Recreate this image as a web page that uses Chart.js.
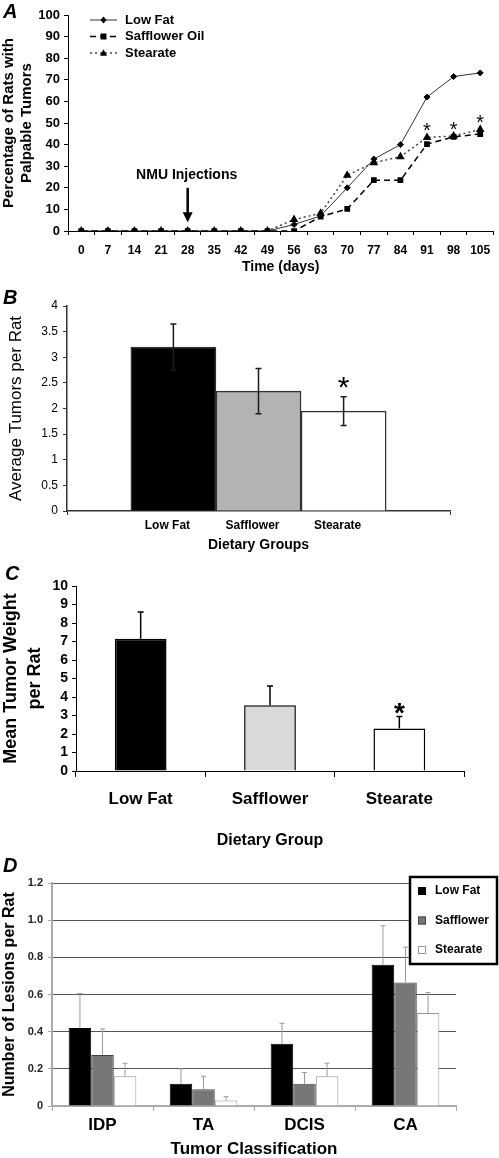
<!DOCTYPE html>
<html>
<head>
<meta charset="utf-8">
<script src="https://cdn.jsdelivr.net/npm/chart.js@4.4.0/dist/chart.umd.min.js"></script>
<style>
  html, body { margin: 0; padding: 0; background: #fff; }
  body { width: 499px; height: 1158px; position: relative; overflow: hidden; }
  canvas { position: absolute; left: 0; }
  .panel { position: absolute; font: italic bold 20px "Liberation Sans", Arial, sans-serif; line-height: 20px; color: #000; }
</style>
</head>
<body>
<canvas id="chartA" width="499" height="280" style="top:0px"></canvas>
<canvas id="chartB" width="499" height="276" style="top:280px"></canvas>
<canvas id="chartC" width="499" height="296" style="top:556px"></canvas>
<canvas id="chartD" width="499" height="306" style="top:852px"></canvas>
<div class="panel" style="left:3px;top:1px">A</div>
<div class="panel" style="left:3px;top:287px">B</div>
<div class="panel" style="left:5px;top:563px">C</div>
<div class="panel" style="left:3px;top:855px">D</div>
<script>
// ---- panel A: palpable tumors over time
const days = ['0', '7', '14', '21', '28', '35', '42', '49', '56', '63', '70', '77', '84', '91', '98', '105'];
const lowFatPct = [0, 0, 0, 0, 0, 0, 0, 0, 3, 7, 20, 33.3, 40, 62, 71.5, 73.2];
const safflowerPct = [0, 0, 0, 0, 0, 0, 0, 0, 0, 6.6, 10.2, 23.5, 23.5, 40.2, 43.6, 44.9];
const stearatePct = [0, 0, 0, 0, 0, 0, 0, 0, 5.3, 8.2, 25.8, 31.6, 34.4, 43.3, 44, 47];
const pctSignificant = [false, false, false, false, false, false, false, false, false, false, false, false, false, true, true, true];
const nmuDayIndex = 4;

// ---- panel B: average tumors per rat
const dietGroups = ['Low Fat', 'Safflower', 'Stearate'];
const avgTumors = [3.2, 2.34, 1.95];
const avgTumorsErr = [0.45, 0.44, 0.28];
const avgTumorsSig = [false, false, true];

// ---- panel C: mean tumor weight per rat
const tumorWeight = [7.15, 3.55, 2.3];
const tumorWeightErr = [1.45, 1.05, 0.65];
const tumorWeightSig = [false, false, true];

// ---- panel D: lesions per rat by tumor class
const tumorClasses = ['IDP', 'TA', 'DCIS', 'CA'];
const lesionsLowFat = [0.42, 0.12, 0.335, 0.76];
const lesionsSafflower = [0.275, 0.09, 0.12, 0.665];
const lesionsStearate = [0.16, 0.03, 0.16, 0.5];
const lesionsLowFatErr = [0.185, 0.08, 0.11, 0.21];
const lesionsSafflowerErr = [0.14, 0.07, 0.06, 0.19];
const lesionsStearateErr = [0.07, 0.02, 0.07, 0.11];

const FONT = '"Liberation Sans", Arial, sans-serif';
Chart.defaults.font.family = FONT;
Chart.defaults.color = '#000';
Chart.defaults.animation = false;
Chart.defaults.responsive = false;
Chart.defaults.plugins.legend.display = false;
Chart.defaults.plugins.tooltip.enabled = false;

function drawMarker(ctx, style, x, y, r) {
  ctx.beginPath();
  if (style === 'rect') {
    ctx.rect(x - r, y - r, 2 * r, 2 * r);
  } else if (style === 'rectRot') {
    ctx.moveTo(x, y - r * 1.2); ctx.lineTo(x + r, y); ctx.lineTo(x, y + r * 1.2); ctx.lineTo(x - r, y);
    ctx.closePath();
  } else {
    ctx.moveTo(x, y - r * 1.1); ctx.lineTo(x + r, y + r * 0.8); ctx.lineTo(x - r, y + r * 0.8);
    ctx.closePath();
  }
  ctx.fill();
}

// error bars, stars and the injection arrow
const extras = {
  id: 'extras',
  afterDatasetsDraw(chart, args, o) {
    const { ctx } = chart;
    const ys = chart.scales.y, xs = chart.scales.x;
    ctx.save();
    (o.errors || []).forEach((errs, di) => {
      const meta = chart.getDatasetMeta(di);
      const vals = chart.data.datasets[di].data;
      meta.data.forEach((el, j) => {
        const v = typeof vals[j] === 'object' ? vals[j].y : vals[j];
        const top = ys.getPixelForValue(v + errs[j]);
        const bot = o.lower ? ys.getPixelForValue(v - errs[j]) : el.y;
        ctx.strokeStyle = o.errColor;
        ctx.lineWidth = o.errWidth;
        ctx.beginPath();
        ctx.moveTo(el.x, top); ctx.lineTo(el.x, bot);
        ctx.moveTo(el.x - o.cap, top); ctx.lineTo(el.x + o.cap, top);
        if (o.lower) { ctx.moveTo(el.x - o.cap, bot); ctx.lineTo(el.x + o.cap, bot); }
        ctx.stroke();
      });
    });
    if (o.stars) {
      const s = o.stars;
      const meta = chart.getDatasetMeta(s.dataset);
      const vals = chart.data.datasets[s.dataset].data;
      ctx.font = s.font;
      ctx.fillStyle = '#000';
      ctx.textAlign = 'center';
      ctx.textBaseline = 'alphabetic';
      s.flags.forEach((f, j) => {
        if (!f) return;
        const el = meta.data[j];
        const v = typeof vals[j] === 'object' ? vals[j].y : vals[j];
        const base = s.errors ? ys.getPixelForValue(v + s.errors[j]) : el.y;
        ctx.fillText('*', el.x, base - s.offset + s.size * 0.58);
      });
    }
    if (o.arrow) {
      const a = o.arrow;
      const px = xs.getPixelForValue(a.index);
      ctx.fillStyle = '#000';
      ctx.strokeStyle = '#000';
      ctx.font = 'bold 14px ' + FONT;
      ctx.textAlign = 'center';
      ctx.textBaseline = 'middle';
      ctx.fillText(a.label, px - 1, ys.getPixelForValue(a.textAt));
      const y0 = ys.getPixelForValue(a.from), y1 = ys.getPixelForValue(a.to);
      ctx.lineWidth = 2.5;
      ctx.beginPath(); ctx.moveTo(px, y0); ctx.lineTo(px, y1 - 6); ctx.stroke();
      ctx.beginPath(); ctx.moveTo(px, y1); ctx.lineTo(px - 5, y1 - 10); ctx.lineTo(px + 5, y1 - 10); ctx.closePath(); ctx.fill();
    }
    ctx.restore();
  }
};

const lineLegend = {
  id: 'lineLegend',
  afterDraw(chart, args, o) {
    const { ctx } = chart;
    ctx.save();
    chart.data.datasets.forEach((ds, i) => {
      const y = o.y + i * o.step;
      ctx.strokeStyle = ds.borderColor;
      ctx.lineWidth = ds.borderWidth;
      ctx.setLineDash(ds.borderDash || []);
      ctx.beginPath(); ctx.moveTo(o.x, y); ctx.lineTo(o.x + o.len, y); ctx.stroke();
      ctx.setLineDash([]);
      ctx.fillStyle = '#000';
      drawMarker(ctx, ds.pointStyle, o.x + o.len / 2, y, ds.pointRadius);
      ctx.font = 'bold 13px ' + FONT;
      ctx.textBaseline = 'middle';
      ctx.fillText(ds.label, o.x + o.len + 8, y);
    });
    ctx.restore();
  }
};

const boxLegend = {
  id: 'boxLegend',
  afterDraw(chart, args, o) {
    const { ctx } = chart;
    ctx.save();
    ctx.fillStyle = '#fff';
    ctx.fillRect(o.x, o.y, o.w, o.h);
    ctx.lineWidth = 2.5;
    ctx.strokeStyle = '#000';
    ctx.strokeRect(o.x, o.y, o.w, o.h);
    ctx.font = 'bold 12px ' + FONT;
    ctx.textBaseline = 'middle';
    chart.data.datasets.forEach((ds, i) => {
      const cy = o.y + o.first + i * o.step;
      ctx.fillStyle = ds.backgroundColor;
      ctx.fillRect(o.x + 8, cy - 4, 8, 8);
      ctx.lineWidth = 1;
      ctx.strokeStyle = ds.borderColor;
      ctx.strokeRect(o.x + 8.5, cy - 3.5, 7, 7);
      ctx.fillStyle = '#000';
      ctx.fillText(ds.label, o.x + 25, cy);
    });
    ctx.restore();
  }
};

// ---------- A
new Chart(document.getElementById('chartA'), {
  type: 'line',
  data: {
    labels: days,
    datasets: [
      { label: 'Low Fat', data: lowFatPct, borderColor: '#333', borderWidth: 1, pointStyle: 'rectRot', pointRadius: 3,
        pointBackgroundColor: '#000', pointBorderColor: '#000', tension: 0 },
      { label: 'Safflower Oil', data: safflowerPct, borderColor: '#000', borderWidth: 1.5, borderDash: [6, 4], pointStyle: 'rect',
        pointRadius: 3, pointBackgroundColor: '#000', pointBorderColor: '#000', tension: 0 },
      { label: 'Stearate', data: stearatePct, borderColor: '#444', borderWidth: 1.5, borderDash: [2, 3], pointStyle: 'triangle',
        pointRadius: 3.5, pointBackgroundColor: '#000', pointBorderColor: '#000', tension: 0 }
    ]
  },
  options: {
    layout: { padding: { top: 15, right: 0, left: 0, bottom: 0 } },
    plugins: {
      lineLegend: { x: 90, y: 20, step: 16.5, len: 27 },
      extras: {
        stars: { dataset: 2, flags: pctSignificant, font: '20px ' + FONT, size: 20, offset: 12 },
        arrow: { index: nmuDayIndex, label: 'NMU Injections', textAt: 26, from: 20, to: 4 }
      }
    },
    scales: {
      x: {
        offset: true,
        grid: { offset: true, drawOnChartArea: false, tickLength: 4, color: '#000' },
        border: { color: '#000', width: 1 },
        ticks: { font: { size: 12, weight: 'bold' }, padding: 8, maxRotation: 0, autoSkip: false },
        title: { display: true, text: 'Time (days)', font: { size: 14, weight: 'bold' }, padding: { top: 0, bottom: 4 } },
        afterFit(s) { s.height = 49; }
      },
      y: {
        min: 0, max: 100,
        ticks: { stepSize: 10, font: { size: 13, weight: 'bold' }, padding: 4, autoSkip: false },
        grid: { drawOnChartArea: false, tickLength: 4, color: '#000' },
        border: { color: '#000', width: 1 },
        title: { display: true, text: ['Percentage of Rats with', 'Palpable Tumors'],
          font: { size: 15, weight: 'bold', lineHeight: '18px' }, padding: { top: 0, bottom: 0 } },
        afterFit(s) { s.width = 68; }
      }
    }
  },
  plugins: [extras, lineLegend]
});

// ---------- B
new Chart(document.getElementById('chartB'), {
  type: 'bar',
  data: {
    datasets: [{
      data: avgTumors.map((v, i) => ({ x: i, y: v })),
      backgroundColor: ['#000', '#b3b3b3', '#fff'],
      borderColor: '#333', borderWidth: 1.5,
      barPercentage: 1, categoryPercentage: 1
    }]
  },
  options: {
    layout: { padding: { top: 26, right: 49, left: 0, bottom: 0 } },
    plugins: {
      extras: {
        errors: [avgTumorsErr], lower: true, errColor: '#1a1a1a', errWidth: 1.5, cap: 3,
        stars: { dataset: 0, flags: avgTumorsSig, errors: avgTumorsErr, font: '30px ' + FONT, size: 30, offset: 17 }
      }
    },
    scales: {
      x: {
        type: 'linear', min: -1.25, max: 3.25, offset: false,
        afterBuildTicks(s) { s.ticks = [s.min, 0, 1, 2, s.max].map(v => ({ value: v })); },
        ticks: { callback: v => dietGroups[v] ?? '', font: { size: 12, weight: 'bold' }, padding: 3, labelOffset: -6,
          autoSkip: false, maxRotation: 0 },
        grid: {
          offset: false, drawOnChartArea: false, tickLength: 4,
          tickColor: c => (c.tick && Number.isInteger(c.tick.value) && c.tick.value >= 0 && c.tick.value < dietGroups.length) ? 'rgba(0,0,0,0)' : '#333'
        },
        border: { color: '#333', width: 1.5 },
        title: { display: true, text: 'Dietary Groups', font: { size: 14, weight: 'bold' }, padding: { top: 0, bottom: 2 } },
        afterFit(s) { s.height = 45; }
      },
      y: {
        min: 0, max: 4,
        ticks: { stepSize: 0.5, font: { size: 12 }, padding: 5, autoSkip: false, callback: v => String(v) },
        grid: { drawOnChartArea: false, tickLength: 4, color: '#333' },
        border: { color: '#333', width: 1.5 },
        title: { display: true, text: 'Average Tumors per Rat', font: { size: 17 }, padding: { top: 6, bottom: 0 } },
        afterFit(s) { s.width = 67; }
      }
    }
  },
  plugins: [extras]
});

// ---------- C
new Chart(document.getElementById('chartC'), {
  type: 'bar',
  data: {
    labels: dietGroups,
    datasets: [{
      data: tumorWeight,
      backgroundColor: ['#000', '#d9d9d9', '#fff'],
      borderColor: '#000', borderWidth: 1.5,
      barPercentage: 0.4, categoryPercentage: 1
    }]
  },
  options: {
    layout: { padding: { top: 30, right: 35, left: 0, bottom: 0 } },
    plugins: {
      extras: {
        errors: [tumorWeightErr], lower: false, errColor: '#000', errWidth: 1.5, cap: 3,
        stars: { dataset: 0, flags: tumorWeightSig, errors: tumorWeightErr, font: 'bold 28px ' + FONT, size: 28, offset: 10.5 }
      }
    },
    scales: {
      x: {
        grid: { offset: true, drawOnChartArea: false, tickLength: 6, color: '#000' },
        border: { color: '#000', width: 1 },
        ticks: { font: { size: 17, weight: 'bold' }, padding: 12, maxRotation: 0 },
        title: { display: true, text: 'Dietary Group', font: { size: 16, weight: 'bold' }, padding: { top: 0, bottom: 2 } },
        afterFit(s) { s.height = 81; }
      },
      y: {
        min: 0, max: 10,
        ticks: { stepSize: 1, font: { size: 14, weight: 'bold' }, padding: 4, autoSkip: false },
        grid: { drawOnChartArea: false, tickLength: 4, color: '#000' },
        border: { color: '#000', width: 1 },
        title: { display: true, text: ['Mean Tumor Weight', 'per Rat'],
          font: { size: 18, weight: 'bold', lineHeight: '24px' }, padding: { top: -1, bottom: 0 } },
        afterFit(s) { s.width = 76; }
      }
    }
  },
  plugins: [extras]
});

// ---------- D
new Chart(document.getElementById('chartD'), {
  type: 'bar',
  data: {
    labels: tumorClasses,
    datasets: [
      { label: 'Low Fat', data: lesionsLowFat, backgroundColor: '#000', borderColor: '#000', borderWidth: 1 },
      { label: 'Safflower', data: lesionsSafflower, backgroundColor: '#777', borderColor: '#444', borderWidth: 1 },
      { label: 'Stearate', data: lesionsStearate, backgroundColor: '#fff', borderColor: '#999', borderWidth: 1 }
    ]
  },
  options: {
    datasets: { bar: { barPercentage: 1, categoryPercentage: 0.67 } },
    layout: { padding: { top: 31, right: 43, left: 0, bottom: 0 } },
    plugins: {
      extras: {
        errors: [lesionsLowFatErr, lesionsSafflowerErr, lesionsStearateErr], lower: false, errColor: '#999', errWidth: 1, cap: 2.5
      },
      boxLegend: { x: 410, y: 25, w: 87, h: 87, first: 14, step: 29.5 }
    },
    scales: {
      x: {
        grid: { offset: true, drawOnChartArea: false, tickLength: 5, tickColor: '#aaa' },
        border: { color: '#aaa', width: 2 },
        ticks: { font: { size: 17, weight: 'bold' }, padding: 4, maxRotation: 0 },
        title: { display: true, text: 'Tumor Classification', font: { size: 17, weight: 'bold' }, padding: { top: 0, bottom: -2 } },
        afterFit(s) { s.height = 52; }
      },
      y: {
        min: 0, max: 1.2,
        ticks: { stepSize: 0.2, font: { size: 11, weight: 'bold' }, color: '#222', padding: 5, autoSkip: false,
          callback: v => (v === 0 ? '0' : v.toFixed(1)) },
        grid: { color: '#555', lineWidth: 1, tickLength: 4, tickColor: '#aaa' },
        border: { color: '#aaa', width: 2 },
        title: { display: true, text: 'Number of Lesions per Rat', font: { size: 16, weight: 'bold' }, padding: { top: 0, bottom: 0 } },
        afterFit(s) { s.width = 52; }
      }
    }
  },
  plugins: [extras, boxLegend]
});
</script>
</body>
</html>
